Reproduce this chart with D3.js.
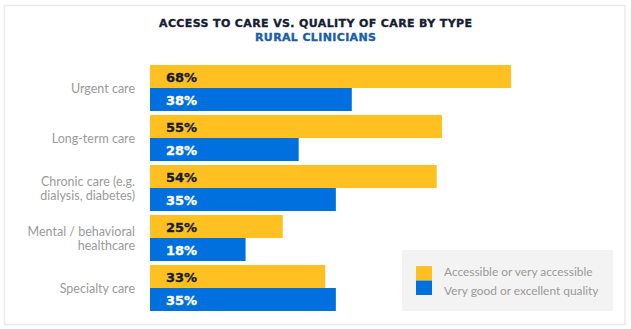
<!DOCTYPE html>
<html><head><meta charset="utf-8">
<script src="https://cdn.jsdelivr.net/npm/d3@7"></script>
<style>
body{margin:0;background:#fff;}
svg{display:block;}
</style></head>
<body><svg id="c" width="631" height="329"></svg>
<script>
const categories = [["Urgent care"],["Long-term care"],["Chronic care (e.g.","dialysis, diabetes)"],["Mental / behavioral","healthcare"],["Specialty care"]];
const accessible = [68,55,54,25,33];
const quality = [38,28,35,18,35];
const seriesNames = ["Accessible or very accessible","Very good or excellent quality"];
const title = "ACCESS TO CARE VS. QUALITY OF CARE BY TYPE";
const subtitle = "RURAL CLINICIANS";

const colors = ["#FFC122","#0070DF"];
const svg = d3.select("#c");

svg.append("rect").attr("x",4.5).attr("y",5.5).attr("width",620.5).attr("height",319)
  .attr("fill","#fff").attr("stroke","#ebebeb").attr("stroke-width",1.5);

svg.append("text").attr("x",315.5).attr("y",27).attr("text-anchor","middle")
  .attr("font-family","DejaVu Sans").attr("font-weight","bold").attr("font-size",11)
  .attr("textLength",313).attr("lengthAdjust","spacing")
  .attr("fill","#161d33").attr("stroke","#161d33").attr("stroke-width",0.35).text(title);
svg.append("text").attr("x",315.5).attr("y",41).attr("text-anchor","middle")
  .attr("font-family","DejaVu Sans").attr("font-weight","bold").attr("font-size",11)
  .attr("textLength",121).attr("lengthAdjust","spacing")
  .attr("fill","#1a5ea8").attr("stroke","#1a5ea8").attr("stroke-width",0.35).text(subtitle);

const x = d3.scaleLinear().domain([0,100]).range([150,681]);
const y = d3.scaleBand().domain(d3.range(categories.length)).range([65,311]).paddingInner(0.08).paddingOuter(0).align(0);
const bh = 23;

const g = svg.append("g");
const rows = g.selectAll("g.row").data(categories.map((c,i)=>({c,i,a:accessible[i],q:quality[i]}))).join("g");
rows.each(function(d){
  const r = d3.select(this);
  const y0 = y(d.i);
  [d.a,d.q].forEach((v,k)=>{
    r.append("rect").attr("x",x(0)).attr("y",y0+k*bh).attr("width",x(v)-x(0)).attr("height",bh).attr("fill",colors[k]);
    const col = k===0?"#161d33":"#ffffff";
    r.append("text").attr("x",x(0)+16).attr("y",y0+k*bh+bh/2+5)
      .attr("font-family","DejaVu Sans").attr("font-weight","bold").attr("font-size",13)
      .attr("fill",col).attr("stroke",col).attr("stroke-width",0.35).text(v+"%");
  });
  const cy = y0+bh;
  const n = d.c.length, lh = 14.5;
  d.c.forEach((line,j)=>{
    r.append("text").attr("x",135).attr("y",cy+(j-(n-1)/2)*lh+4.8).attr("text-anchor","end")
      .attr("font-family","Lato").attr("font-size",12.5).attr("fill","#9a9a9a").text(line);
  });
});

const lg = svg.append("g");
lg.append("rect").attr("x",402).attr("y",250).attr("width",211).attr("height",61).attr("fill","#f3f3f3");
seriesNames.forEach((s,k)=>{
  lg.append("rect").attr("x",416).attr("y",266+k*14.5).attr("width",16).attr("height",14.5).attr("fill",colors[k]);
  lg.append("text").attr("x",444).attr("y",275.5+k*19.5).attr("font-family","Lato").attr("font-size",11.9).attr("fill","#9a9a9a").text(s);
});
</script></body></html>
